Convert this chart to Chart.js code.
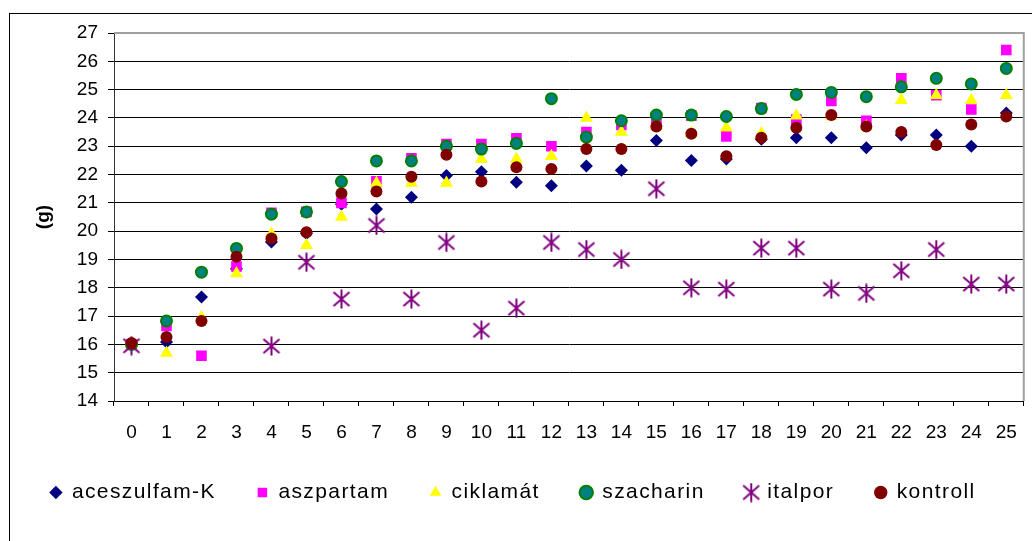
<!DOCTYPE html>
<html>
<head>
<meta charset="utf-8">
<title>Tömeg (g)</title>
<script src="https://cdn.jsdelivr.net/npm/chart.js@4.4.0/dist/chart.umd.min.js"></script>
<style>
  body { margin: 0; background: #fff; }
  #wrap { position: relative; width: 1032px; height: 541px; overflow: hidden; }
  /* outer frame of the excel chart object */
  #frame { position: absolute; left: 9px; top: 13px; width: 1100px; height: 700px; border: 1px solid #000; }
  #chart { position: absolute; left: 0; top: 0; }
</style>
</head>
<body>
<div id="wrap">
  <div id="frame"></div>
  <canvas id="chart" width="1032" height="541"></canvas>
</div>
<script>
// days
const labels = ['0','1','2','3','4','5','6','7','8','9','10','11','12','13','14','15','16','17','18','19','20','21','22','23','24','25'];

const yTicks = [14, 27]; // min / max of y axis

const aceszulfamK = [16.0, 16.08, 17.67, 18.67, 19.62, 19.92, 20.95, 20.78, 21.2, 21.97, 22.1, 21.73, 21.6, 22.3, 22.15, 23.2, 22.5, 22.55, 23.25, 23.3, 23.3, 22.95, 23.4, 23.4, 23.0, 24.17];
const aszpartam = [16.0, 16.65, 15.6, 18.75, 20.65, 20.68, 21.0, 21.76, 22.57, 23.08, 23.08, 23.28, 23.0, 23.5, 23.75, 23.9, 24.08, 23.35, 24.35, 23.94, 24.6, 23.9, 25.4, 24.8, 24.3, 26.4];
const ciklamat = [16.0, 15.7, 16.95, 18.5, 19.9, 19.5, 20.5, 21.7, 21.7, 21.7, 22.55, 22.55, 22.65, 24.0, 23.5, 23.7, 23.45, 23.65, 23.45, 24.08, 24.05, 23.7, 24.62, 24.8, 24.62, 24.8];
const szacharin = [16.0, 16.83, 18.55, 19.39, 20.6, 20.68, 21.75, 22.48, 22.48, 23.0, 22.9, 23.1, 24.68, 23.32, 23.9, 24.1, 24.1, 24.05, 24.33, 24.83, 24.9, 24.75, 25.1, 25.4, 25.2, 25.75];
const italpor = [15.95, null, null, null, 15.94, 18.9, 17.6, 20.2, 17.6, 19.6, 16.5, 17.28, 19.6, 19.35, 19.0, 21.5, 18.0, 17.95, 19.4, 19.4, 17.95, 17.8, 18.6, 19.35, 18.13, 18.13];
const kontroll = [16.05, 16.26, 16.83, 19.1, 19.74, 19.96, 21.33, 21.4, 21.92, 22.7, 21.75, 22.26, 22.2, 22.9, 22.9, 23.7, 23.44, 22.65, 23.3, 23.65, 24.1, 23.7, 23.5, 23.04, 23.77, 24.05];

const FONT = "Arial, 'Liberation Sans', sans-serif";

// excel style asterisk marker (X with a vertical bar), chart.js has no such style
function makeStar(w, h, lw) {
    var c = document.createElement('canvas');
    c.width = w; c.height = h;
    var g = c.getContext('2d');
    g.strokeStyle = '#800080';
    g.lineWidth = lw;
    var m = lw;
    g.beginPath();
    g.moveTo(m, m + 1); g.lineTo(w - m, h - m - 1);
    g.moveTo(w - m, m + 1); g.lineTo(m, h - m - 1);
    g.moveTo(w / 2, 0.5); g.lineTo(w / 2, h - 0.5);
    g.stroke();
    return c;
}
var star = makeStar(20, 20, 2);

// gray border on top and right side of the plot area
const plotFrame = {
    id: 'plotFrame',
    afterDraw(chart) {
        var a = chart.chartArea, ctx = chart.ctx;
        ctx.save();
        ctx.strokeStyle = '#a0a0a0';
        ctx.lineWidth = 2;
        ctx.beginPath();
        ctx.moveTo(a.left, a.top);
        ctx.lineTo(a.right, a.top);
        ctx.lineTo(a.right, a.bottom);
        ctx.stroke();
        ctx.restore();
    }
};

// excel spreads the legend letters a bit, only do that for the legend box
const legendSpacing = {
    id: 'legendSpacing',
    beforeLayout(chart) {
        var lg = chart.legend;
        if (!lg || lg._spaced) return;
        lg._spaced = true;
        ['fit', 'draw'].forEach(function (fn) {
            var orig = lg[fn];
            lg[fn] = function () {
                var c = lg.ctx;
                var old = c.letterSpacing;
                c.letterSpacing = '1.4px';
                var r = orig.apply(lg, arguments);
                c.letterSpacing = old;
                return r;
            };
        });
    }
};

function ds(label, data, style, color, extra) {
    var d = {
        label: label,
        data: data,
        showLine: false,
        pointStyle: style,
        backgroundColor: color,
        borderColor: color,
        borderWidth: 0,
        pointRadius: 6
    };
    return Object.assign(d, extra || {});
}

var datasets = [
    ds('aceszulfam-K', aceszulfamK, 'rectRot', '#000080', {pointRadius: 6.5, order: 5}),
    ds('aszpartam', aszpartam, 'rect', '#ff00ff', {pointRadius: 7.5, order: 4}),
    ds('ciklamát', ciklamat, 'triangle', '#ffff00', {pointRadius: 7.5, order: 3}),
    ds('szacharin', szacharin, 'circle', '#008080', {borderColor: '#008000', borderWidth: 2, pointBorderWidth: 2, pointRadius: 5.5, order: 2}),
    ds('italpor', italpor, star, '#800080', {order: 1}),
    ds('kontroll', kontroll, 'circle', '#800000', {pointRadius: 6, order: 0})
];

var ctx = document.getElementById('chart');
var chart = new Chart(ctx, {
    type: 'line',
    data: { labels: labels, datasets: datasets },
    options: {
        responsive: false,
        animation: false,
        events: [],
        layout: { padding: { top: 33, right: 6, left: 0, bottom: 28 } },
        plugins: {
            tooltip: { enabled: false },
            legend: {
                position: 'bottom',
                labels: {
                    usePointStyle: true,
                    boxWidth: 11,
                    boxHeight: 9.5,
                    padding: 41,
                    color: '#000',
                    font: { family: FONT, size: 21 },
                    // keep the legend in dataset order, drawing order is reversed
                    sort: (a, b) => a.datasetIndex - b.datasetIndex
                }
            }
        },
        scales: {
            x: {
                type: 'category',
                offset: true,
                grid: { offset: true, drawOnChartArea: false, drawTicks: true, tickLength: 5, color: '#000' },
                border: { color: '#000', width: 1 },
                ticks: { color: '#000', font: { family: FONT, size: 19 }, padding: 15, maxRotation: 0, autoSkip: false },
                afterFit: (scale) => { scale.height = 40; }
            },
            y: {
                min: yTicks[0],
                max: yTicks[1],
                ticks: { stepSize: 1, color: '#000', font: { family: FONT, size: 19 }, padding: 10 },
                grid: { color: '#000', lineWidth: 1, tickLength: 6 },
                border: { color: '#333', width: 1 },
                title: { display: true, text: '(g)', color: '#000', font: { family: FONT, size: 19, weight: 'bold' }, padding: { top: 32 } },
                afterFit: (scale) => { scale.width = 114; }
            }
        }
    },
    plugins: [plotFrame, legendSpacing]
});
</script>
</body>
</html>
